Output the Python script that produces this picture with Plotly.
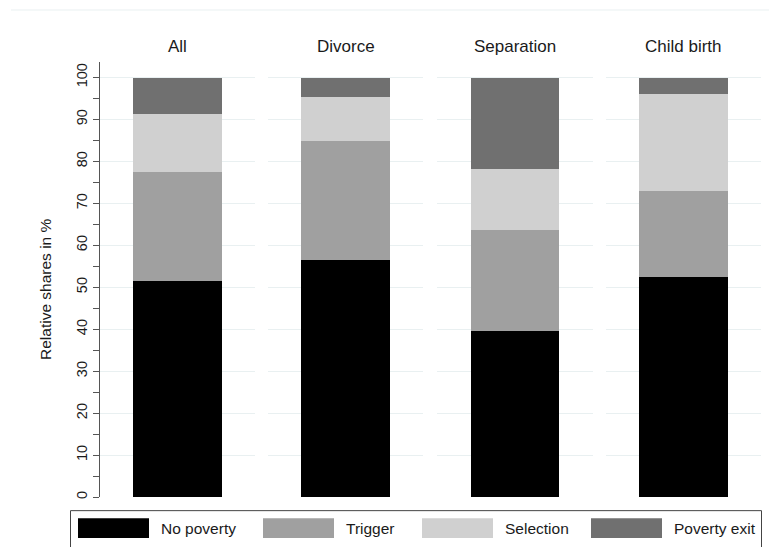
import plotly.graph_objects as go

# ---- data ----
categories = ["All", "Divorce", "Separation", "Child birth"]
series_names = ["No poverty", "Trigger", "Selection", "Poverty exit"]
no_poverty = [51.6, 56.5, 39.6, 52.5]
trigger = [26.0, 28.5, 24.0, 20.4]
selection = [13.8, 10.4, 14.7, 23.2]
poverty_exit = [8.6, 4.6, 21.7, 3.9]
y_tick_values = list(range(0, 101, 10))
y_title = "Relative shares in %"

series_values = [no_poverty, trigger, selection, poverty_exit]
series_colors = ["#000000", "#a0a0a0", "#d0d0d0", "#707070"]

W, H = 777, 547
OFF = 8  # default page body margin
FONT = "Liberation Sans, Arial, sans-serif"
GRID = "#e9f0f1"

panels_px = [(100, 255), (268, 423), (437, 593), (606, 761)]
y_top_px, y_bot_px = 62, 499


def px_x(x):
    return (x - OFF) / W


def px_y(y):
    return (H - (y - OFF)) / H


ydom = [px_y(y_bot_px), px_y(y_top_px)]

fig = go.Figure()
layout = dict(
    width=W, height=H,
    margin=dict(l=0, r=0, t=0, b=0),
    paper_bgcolor="white", plot_bgcolor="white",
    barmode="stack", bargap=0,
    showlegend=False,
    font=dict(family=FONT, color="#1a1a1a"),
)

annotations = []
shapes = []

for i, cat in enumerate(categories):
    xa = "x" if i == 0 else f"x{i+1}"
    ya = "y" if i == 0 else f"y{i+1}"
    for s, name in enumerate(series_names):
        fig.add_trace(go.Bar(
            x=[cat], y=[series_values[s][i]], name=name,
            marker=dict(color=series_colors[s], line=dict(width=0)),
            width=0.568, xaxis=xa, yaxis=ya, showlegend=False,
            hoverinfo="name+y",
        ))
    x0, x1 = panels_px[i]
    layout[f"xaxis{'' if i == 0 else i+1}"] = dict(
        domain=[px_x(x0), px_x(x1)], anchor=ya, type="category",
        range=[-0.5, 0.5], showticklabels=False, showgrid=False,
        zeroline=False, showline=False, ticks="",
    )
    ycfg = dict(
        domain=ydom, anchor=xa, range=[0, 103.7],
        tickvals=y_tick_values, showgrid=True, gridcolor=GRID, gridwidth=1,
        zeroline=False,
    )
    if i == 0:
        ycfg.update(
            showline=True, linecolor="#555555", linewidth=1,
            ticks="outside", ticklen=6, tickcolor="#555555", tickwidth=1,
            tickangle=-90, tickfont=dict(size=14.5, color="#1a1a1a", family=FONT),
            minor=dict(dtick=5, tick0=0, ticks="outside", ticklen=6,
                       tickcolor="#555555", showgrid=False),
        )
    else:
        ycfg.update(showline=False, showticklabels=False, ticks="", matches="y")
    layout[f"yaxis{'' if i == 0 else i+1}"] = ycfg
    annotations.append(dict(
        text=cat, x=px_x((x0 + x1) / 2), y=px_y(47), xref="paper", yref="paper",
        xanchor="center", yanchor="middle", showarrow=False,
        font=dict(size=17, color="#1a1a1a", family=FONT),
    ))

# y axis title
annotations.append(dict(
    text=y_title, x=px_x(46), y=px_y(290), xref="paper", yref="paper",
    xanchor="center", yanchor="middle", showarrow=False, textangle=-90,
    font=dict(size=15.5, color="#1a1a1a", family=FONT),
))

# thin top line
shapes.append(dict(type="line", xref="paper", yref="paper",
                   x0=px_x(11), x1=1, y0=px_y(10), y1=px_y(10),
                   line=dict(color=GRID, width=1)))

# legend box
shapes.append(dict(type="rect", xref="paper", yref="paper",
                   x0=px_x(70.5), x1=px_x(761.5), y0=px_y(560), y1=px_y(512.5),
                   line=dict(color="#444444", width=1), fillcolor="rgba(0,0,0,0)"))
legend_x = [78, 263, 422, 591]
for s, name in enumerate(series_names):
    lx = legend_x[s]
    shapes.append(dict(type="rect", xref="paper", yref="paper",
                       x0=px_x(lx), x1=px_x(lx + 71), y0=px_y(540), y1=px_y(520),
                       line=dict(width=0), fillcolor=series_colors[s]))
    annotations.append(dict(
        text=name, x=px_x(lx + 81), y=px_y(530), xref="paper", yref="paper",
        xanchor="left", yanchor="middle", showarrow=False,
        font=dict(size=15.5, color="#1a1a1a", family=FONT),
    ))

layout["annotations"] = annotations
layout["shapes"] = shapes
fig.update_layout(**layout)
fig.write_html("out.html")
